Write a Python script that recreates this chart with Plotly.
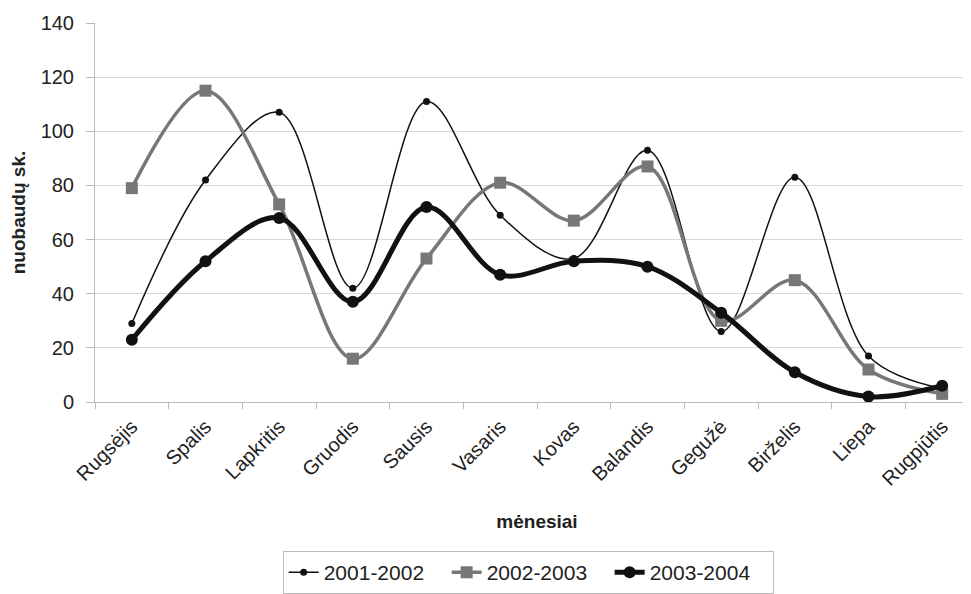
import plotly.graph_objects as go

months = ["Rugsėjis", "Spalis", "Lapkritis", "Gruodis", "Sausis", "Vasaris",
          "Kovas", "Balandis", "Gegužė", "Birželis", "Liepa", "Rugpjūtis"]
s2001 = [29, 82, 107, 42, 111, 69, 53, 93, 26, 83, 17, 5]
s2002 = [79, 115, 73, 16, 53, 81, 67, 87, 30, 45, 12, 3]
s2003 = [23, 52, 68, 37, 72, 47, 52, 50, 33, 11, 2, 6]

font = "Liberation Sans, Arial, sans-serif"

fig = go.Figure()
fig.add_trace(go.Scatter(x=months, y=s2001, name="2001-2002", mode="lines+markers",
                         line=dict(color="#111111", width=1.5, shape="spline", smoothing=1),
                         marker=dict(symbol="circle", size=7, color="#111111")))
fig.add_trace(go.Scatter(x=months, y=s2002, name="2002-2003", mode="lines+markers",
                         line=dict(color="#777777", width=3.5, shape="spline", smoothing=1),
                         marker=dict(symbol="square", size=12, color="#777777")))
fig.add_trace(go.Scatter(x=months, y=s2003, name="2003-2004", mode="lines+markers",
                         line=dict(color="#111111", width=5, shape="spline", smoothing=1),
                         marker=dict(symbol="circle", size=12, color="#111111")))

fig.update_layout(
    width=971, height=594,
    margin=dict(l=87, r=0, t=15, b=200),
    plot_bgcolor="white", paper_bgcolor="white",
    font=dict(family=font, size=20, color="#222222"),
    showlegend=True,
    legend=dict(orientation="h", x=0.49, xanchor="center", y=-0.45, yanchor="middle",
                bordercolor="#bbbbbb", borderwidth=1, font=dict(size=21),
                entrywidth=118, tracegroupgap=0),
    xaxis=dict(type="category", range=[-0.5, 11.5], tickangle=-45, ticks="outside",
               tickson="boundaries",
               ticklen=6, tickcolor="#bbbbbb", showline=True, linecolor="#bbbbbb",
               showgrid=False, automargin=False, ticklabelstandoff=4,
               title=dict(text="<b>mėnesiai</b>", font=dict(size=19), standoff=25)),
    yaxis=dict(range=[0, 140], dtick=20, ticks="outside", ticklen=8, tickcolor="#bbbbbb",
               ticklabelstandoff=8,
               showline=True, linecolor="#bbbbbb", gridcolor="#d9d9d9", gridwidth=1,
               zeroline=False, automargin=False,
               title=dict(text="<b>nuobaudų sk.</b>", font=dict(size=19), standoff=20)),
)

fig.write_html("out.html")
